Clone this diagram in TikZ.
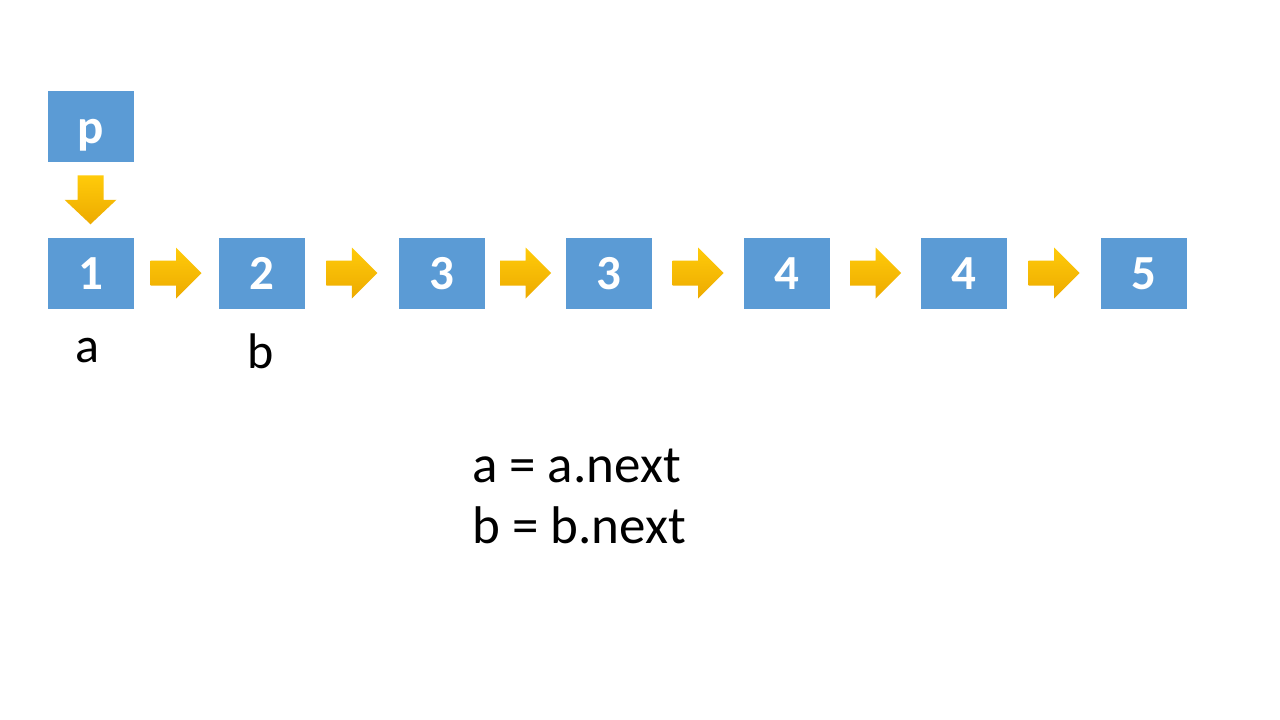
\documentclass[tikz,border=0pt]{standalone}
\usepackage{fontspec}
\setmainfont{Carlito}
\usetikzlibrary{calc}
\definecolor{boxblue}{HTML}{5B9BD5}
\definecolor{goldtop}{HTML}{FFCB0A}
\definecolor{goldbot}{HTML}{EDAA00}
\tikzset{
  listbox/.style={fill=boxblue, draw=none, minimum width=86pt, minimum height=71pt, inner sep=0pt,
    text height=33pt, text depth=0pt,
    text=white, font=\fontsize{49}{58}\selectfont\bfseries},
  varlabel/.style={font=\fontsize{50}{60}\selectfont, text=black, inner sep=0pt, anchor=base},
  codeline/.style={font=\fontsize{53}{63}\selectfont, text=black, inner sep=0pt, anchor=base west},
  goldarrow/.style={top color=goldtop, bottom color=goldbot, draw=none}
}
\newcommand{\rightarr}[2]{%
  \begin{scope}[shift={($(#1.east)!0.5!(#2.west)$)}]
    \shade[goldarrow] (-25.5,12.5) -- (0,12.5) -- (0,25.5) -- (25.5,0) -- (0,-25.5) -- (0,-12.5) -- (-25.5,-12.5) -- cycle;
  \end{scope}}
\begin{document}
\begin{tikzpicture}[x=1pt,y=1pt]
\useasboundingbox (0,0) rectangle (1280,-720);
\fill[white] (0,0) rectangle (1280,-720);
\node[listbox] (p) at (90.5,-126.5) {p};
\node[listbox] (n1) at (90.5,-273) {1};
\node[listbox] (n2) at (261.5,-273) {2};
\node[listbox] (n3) at (442,-273) {3};
\node[listbox] (n4) at (609,-273) {3};
\node[listbox] (n5) at (787,-273) {4};
\node[listbox] (n6) at (964,-273) {4};
\node[listbox] (n7) at (1144,-273) {5};
\begin{scope}[shift={($(p.south)!0.5!(n1.north)$)}]
  \shade[goldarrow] (-13,24.5) -- (13,24.5) -- (13,0) -- (26,0) -- (0,-24.5) -- (-26,0) -- (-13,0) -- cycle;
\end{scope}
\rightarr{n1}{n2}
\rightarr{n2}{n3}
\rightarr{n3}{n4}
\rightarr{n4}{n5}
\rightarr{n5}{n6}
\rightarr{n6}{n7}
\node[varlabel] (la) at (87,-362) {a};
\node[varlabel] (lb) at (261,-368) {b};
\node[codeline] (c1) at (472,-482) {a = a.next};
\node[codeline] (c2) at (472,-543) {b = b.next};
\end{tikzpicture}
\end{document}
